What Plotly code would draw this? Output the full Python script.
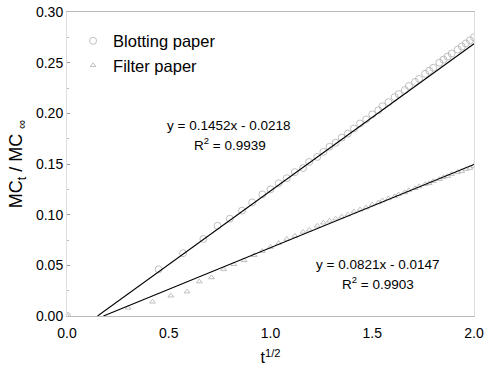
import plotly.graph_objects as go

# ---- data ----
x_blot = [0.0, 0.45, 0.57, 0.67, 0.74, 0.80, 0.86, 0.91, 0.96, 1.00, 1.04, 1.08, 1.12, 1.16, 1.19,
          1.23, 1.26, 1.29, 1.32, 1.35, 1.38, 1.41, 1.44, 1.47, 1.50, 1.53, 1.55, 1.58, 1.61, 1.63,
          1.66, 1.68, 1.71, 1.73, 1.76, 1.78, 1.80, 1.83, 1.85, 1.87, 1.89, 1.92, 1.94, 1.96, 1.98, 2.00]
y_blot = [0.0, 0.046, 0.062, 0.076, 0.089, 0.096, 0.104, 0.112, 0.120, 0.125, 0.131, 0.136, 0.142,
          0.146, 0.152, 0.157, 0.162, 0.167, 0.171, 0.176, 0.180, 0.185, 0.190, 0.194, 0.199, 0.203,
          0.207, 0.211, 0.216, 0.219, 0.223, 0.227, 0.231, 0.234, 0.239, 0.242, 0.245, 0.250, 0.253,
          0.256, 0.259, 0.263, 0.266, 0.269, 0.272, 0.275]

x_filt = [0.0, 0.30, 0.42, 0.51, 0.59, 0.65, 0.71, 0.77, 0.82, 0.87, 0.92, 0.96, 1.00, 1.04, 1.08,
          1.12, 1.16, 1.19, 1.23, 1.26, 1.29, 1.32, 1.35, 1.38, 1.41, 1.44, 1.47, 1.50, 1.53, 1.55,
          1.58, 1.61, 1.63, 1.66, 1.68, 1.71, 1.73, 1.76, 1.78, 1.80, 1.83, 1.85, 1.87, 1.89, 1.92,
          1.94, 1.96, 1.98, 2.00]
y_filt = [0.0, 0.008, 0.014, 0.020, 0.024, 0.034, 0.038, 0.046, 0.051, 0.055, 0.060, 0.064, 0.068,
          0.072, 0.076, 0.079, 0.083, 0.085, 0.089, 0.092, 0.094, 0.096, 0.098, 0.100, 0.103, 0.105,
          0.107, 0.110, 0.112, 0.114, 0.116, 0.118, 0.120, 0.122, 0.124, 0.126, 0.128, 0.130, 0.131,
          0.133, 0.135, 0.137, 0.138, 0.140, 0.142, 0.143, 0.145, 0.146, 0.148]

# linear fits: slope, intercept
fit_blot = (0.1452, -0.0218)
fit_filt = (0.0821, -0.0147)
x_end = 2.0

x_ticks = [0, 0.5, 1.0, 1.5, 2.0]
x_ticklabels = ["0.0", "0.5", "1.0", "1.5", "2.0"]
y_ticks = [0, 0.05, 0.10, 0.15, 0.20, 0.25, 0.30]
y_ticklabels = ["0.00", "0.05", "0.10", "0.15", "0.20", "0.25", "0.30"]


def fit_line(fit):
    m, b = fit
    x0 = -b / m
    return [x0, x_end], [m * x0 + b, m * x_end + b]


fig = go.Figure()
fig.add_trace(go.Scatter(x=x_blot, y=y_blot, mode="markers", name="Blotting paper",
                         marker=dict(symbol="circle-open", size=7, color="#b0b0b0",
                                     line=dict(width=0.8, color="#b0b0b0"))))
fig.add_trace(go.Scatter(x=x_filt, y=y_filt, mode="markers", name="Filter paper",
                         marker=dict(symbol="triangle-up-open", size=5, color="#b0b0b0",
                                     line=dict(width=0.8, color="#b0b0b0"))))
for fit in (fit_blot, fit_filt):
    lx, ly = fit_line(fit)
    fig.add_trace(go.Scatter(x=lx, y=ly, mode="lines", showlegend=False,
                             line=dict(color="black", width=1.1)))

font = "Liberation Sans, Arial, sans-serif"
L, T, W, H = 67, 12, 407, 304
annots = [
    (228, 125, "y = 0.1452x - 0.0218"),
    (230, 144, "R<sup>2</sup> = 0.9939"),
    (377, 264, "y = 0.0821x - 0.0147"),
    (378, 283, "R<sup>2</sup> = 0.9903"),
]
for px, py, txt in annots:
    fig.add_annotation(x=(px - L) / W, y=1 - (py - T) / H, xref="paper", yref="paper",
                       xanchor="center", yanchor="middle",
                       text=txt, showarrow=False,
                       font=dict(size=13.5, color="black", family=font))

fig.update_layout(
    width=484, height=374,
    margin=dict(l=L, r=484 - L - W, t=T, b=374 - T - H),
    paper_bgcolor="white", plot_bgcolor="white",
    font=dict(family=font, size=14, color="black"),
    legend=dict(x=0.015, y=0.962, xanchor="left", yanchor="top", bgcolor="rgba(0,0,0,0)",
                font=dict(size=16.5), itemwidth=30),
    xaxis=dict(range=[0, 2.0], tickvals=x_ticks, ticktext=x_ticklabels, automargin=False,
               showgrid=False, zeroline=False, showline=True, linecolor="#bbbbbb",
               mirror=True, ticks="", ticklabelstandoff=4,
               title=dict(text="t<sup>1/2</sup>", font=dict(size=16), standoff=12)),
    yaxis=dict(range=[0, 0.30], tickvals=y_ticks, ticktext=y_ticklabels, automargin=False,
               showgrid=False, zeroline=False, showline=True, linecolor="#dddddd",
               mirror=True, ticks="inside", ticklen=3, tickcolor="#999999",
               minor=dict(ticks="inside", ticklen=2, tickcolor="#bbbbbb", dtick=0.025),
               title=dict(text="MC<sub>t</sub> / MC <sub>∞</sub>", font=dict(size=18), standoff=8)),
)

fig.write_html("out.html")
